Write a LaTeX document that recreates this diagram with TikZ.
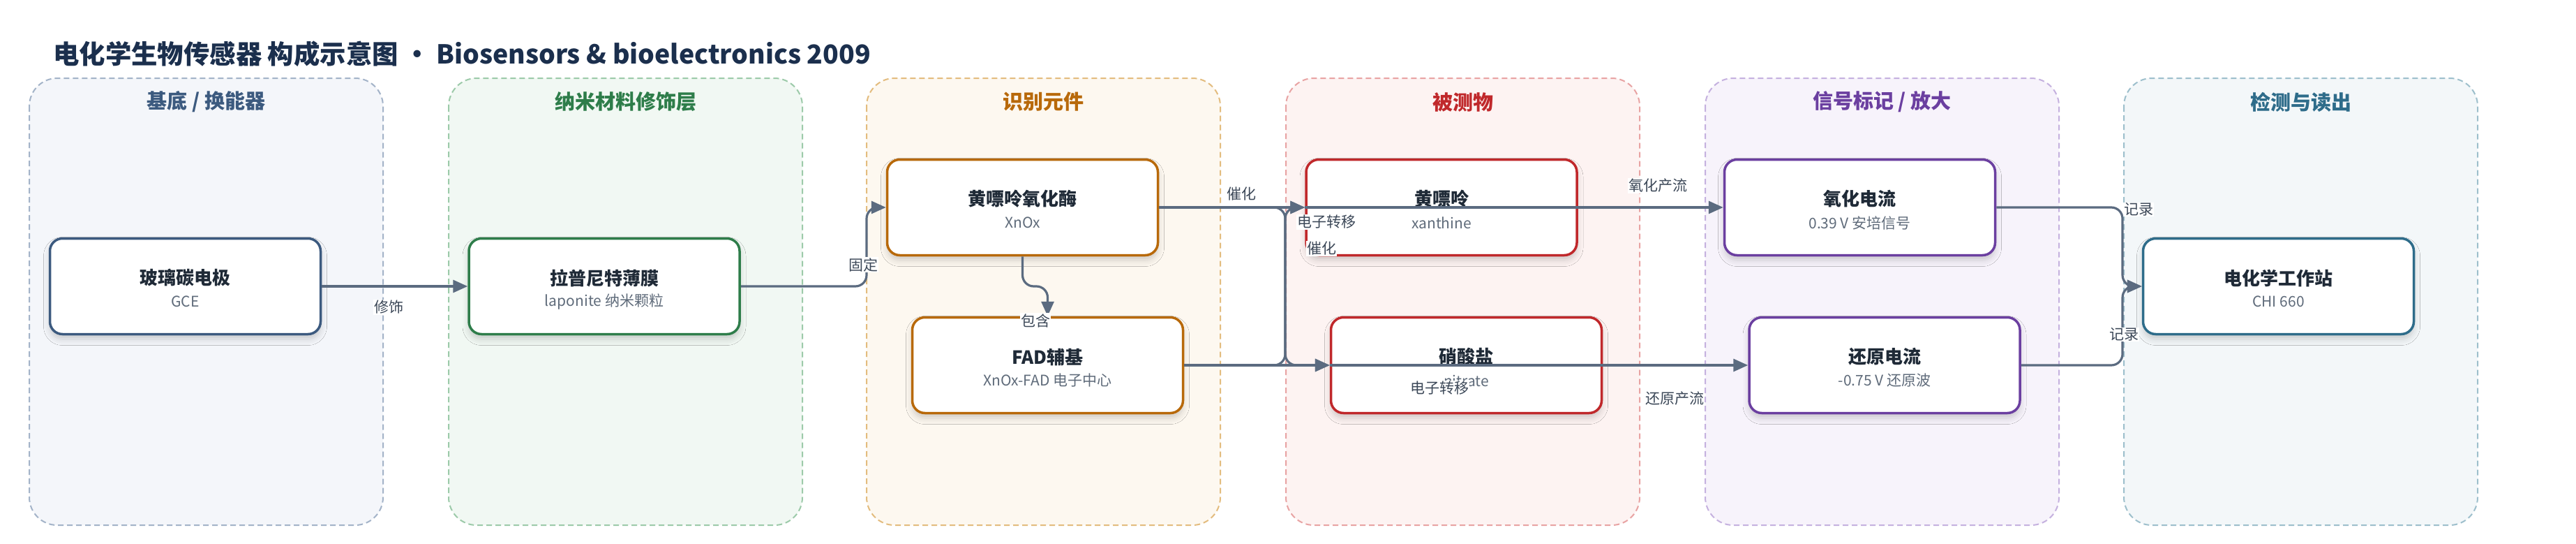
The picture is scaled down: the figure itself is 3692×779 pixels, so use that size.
\documentclass[tikz,border=0pt]{standalone}
\usepackage{fontspec}
\setmainfont{Noto Sans CJK SC}
\usetikzlibrary{arrows.meta,shadows.blur,calc}
\definecolor{edgec}{HTML}{5B6B80}
\definecolor{labc}{HTML}{3C4858}
\definecolor{ttlc}{HTML}{1F2A37}
\definecolor{subc}{HTML}{5F6B7A}
\definecolor{mainc}{HTML}{1B2F4D}
\definecolor{laAf}{HTML}{F4F6FA}\definecolor{laAd}{HTML}{A3B3C8}\definecolor{laAt}{HTML}{3C5A7F}
\definecolor{laBf}{HTML}{F1F8F3}\definecolor{laBd}{HTML}{9CCAA9}\definecolor{laBt}{HTML}{2E7D4A}
\definecolor{laCf}{HTML}{FDF8F0}\definecolor{laCd}{HTML}{E3BC7E}\definecolor{laCt}{HTML}{B8690A}
\definecolor{laDf}{HTML}{FDF3F2}\definecolor{laDd}{HTML}{E8A3A3}\definecolor{laDt}{HTML}{C0282B}
\definecolor{laEf}{HTML}{F7F3FB}\definecolor{laEd}{HTML}{C5B1DF}\definecolor{laEt}{HTML}{6B3FA0}
\definecolor{laFf}{HTML}{F3F7F9}\definecolor{laFd}{HTML}{9DBFCC}\definecolor{laFt}{HTML}{2E6C8A}
\tikzset{
  lanebox/.style={draw=#1, dash pattern=on 8pt off 5pt, line width=2pt, rounded corners=40pt},
  lanetitle/.style={font=\fontsize{29}{32}\selectfont\bfseries, text=#1},
  nodebox/.style={draw=#1, fill=white, line width=3.5pt, rounded corners=18pt,
    minimum width=388pt, minimum height=137pt, inner sep=0pt,
    blur shadow={shadow xshift=0pt, shadow yshift=-7pt, shadow blur radius=9pt, shadow opacity=18}},
  ntitle/.style={font=\fontsize{26}{28}\selectfont\bfseries, text=ttlc},
  nsub/.style={font=\fontsize{21}{24}\selectfont, text=subc},
  edge/.style={draw=edgec, line width=3.2pt, rounded corners=16pt, -{Triangle[length=21pt,width=18pt]}},
  elabel/.style={font=\fontsize{21}{24}\selectfont, text=labc, fill=white, inner sep=1pt},
}
\begin{document}
\begin{tikzpicture}[x=1pt,y=-1pt]
\useasboundingbox (0,0) rectangle (3692,779);
\fill[white] (0,0) rectangle (3692,779);
% title
\node[anchor=west, font=\fontsize{37.4}{42}\selectfont\bfseries, text=mainc, inner sep=0pt] (title) at (76,77)
  {电化学生物传感器 构成示意图 • Biosensors \& bioelectronics 2009};
% lanes
\foreach \i/\x/\c/\t in {0/42/A/{基底 / 换能器}, 1/643/B/{纳米材料修饰层}, 2/1242/C/{识别元件}, 3/1843/D/{被测物}, 4/2444/E/{信号标记 / 放大}, 5/3044/F/{检测与读出}}{
  \path[lanebox=la\c d, fill=la\c f] (\x,112) rectangle ++(507,640);
  \node[lanetitle=la\c t] (lane\i) at (\x+253.5,146) {\t};
}
% nodes
\node[nodebox=laAt] (gce) at (265.5,410) {};
\node[nodebox=laBt] (lap) at (866,410) {};
\node[nodebox=laCt] (xnox) at (1465.5,297) {};
\node[nodebox=laCt] (fad) at (1501.5,523) {};
\node[nodebox=laDt] (xan) at (2066,297) {};
\node[nodebox=laDt] (nit) at (2101.5,523) {};
\node[nodebox=laEt] (ox) at (2665.5,297) {};
\node[nodebox=laEt] (red) at (2701,523) {};
\node[nodebox=laFt] (st) at (3265.5,410) {};
\foreach \n/\a/\b in {gce/玻璃碳电极/GCE, lap/拉普尼特薄膜/laponite 纳米颗粒, xnox/黄嘌呤氧化酶/XnOx, fad/FAD辅基/XnOx-FAD 电子中心, xan/黄嘌呤/xanthine, nit/硝酸盐/nitrate, ox/氧化电流/0.39 V 安培信号, red/还原电流/-0.75 V 还原波, st/电化学工作站/CHI 660}{
  \node[ntitle] (\n-t) at ($(\n.center)+(0,-12)$) {\a};
  \node[nsub] (\n-s) at ($(\n.center)+(0,22)$) {\b};
}
% junction coordinates
\coordinate (j1) at (1242,0);
\coordinate (j2) at (0,410);
\coordinate (j3) at (1842,0);
\coordinate (j4) at (3042,0);
% edges
\draw[edge] (gce.east) -- (lap.west);
\draw[edge] (lap.east) -- (lap.east -| j1) -- (xnox.west -| j1) -- (xnox.west);
\draw[edge] (xnox.south) -- (xnox.south |- j2) -- (fad.north |- j2) -- (fad.north);
\draw[edge] (xnox.east) -- (xnox.east -| j3) -- (nit.west -| j3) -- (nit.west);
\draw[edge] (fad.east) -- (fad.east -| j3) -- (xan.west -| j3) -- (xan.west);
\draw[edge] (xnox.east) -- (xan.west);
\draw[edge] (fad.east) -- (nit.west);
\draw[edge] (xan.west) -- (ox.west);
\draw[edge] (nit.west) -- (red.west);
\draw[edge] (ox.east) -- (ox.east -| j4) -- (st.west -| j4) -- (st.west);
\draw[edge] (red.east) -- (red.east -| j4) -- (st.west -| j4) -- (st.west);
% edge labels
\node[elabel] (l1) at (557,440) {修饰};
\node[elabel] (l2) at (1237,379) {固定};
\node[elabel] (l3) at (1484,459) {包含};
\node[elabel] (l4) at (1779,278) {催化};
\node[elabel] (l5) at (1901,318) {电子转移};
\node[elabel] (l6) at (1894,356) {催化};
\node[elabel] (l7) at (2063,556) {电子转移};
\node[elabel] (l8) at (2376,266) {氧化产流};
\node[elabel] (l9) at (2400,571) {还原产流};
\node[elabel] (l10) at (3065,300) {记录};
\node[elabel] (l11) at (3044,479) {记录};
\end{tikzpicture}
\end{document}
